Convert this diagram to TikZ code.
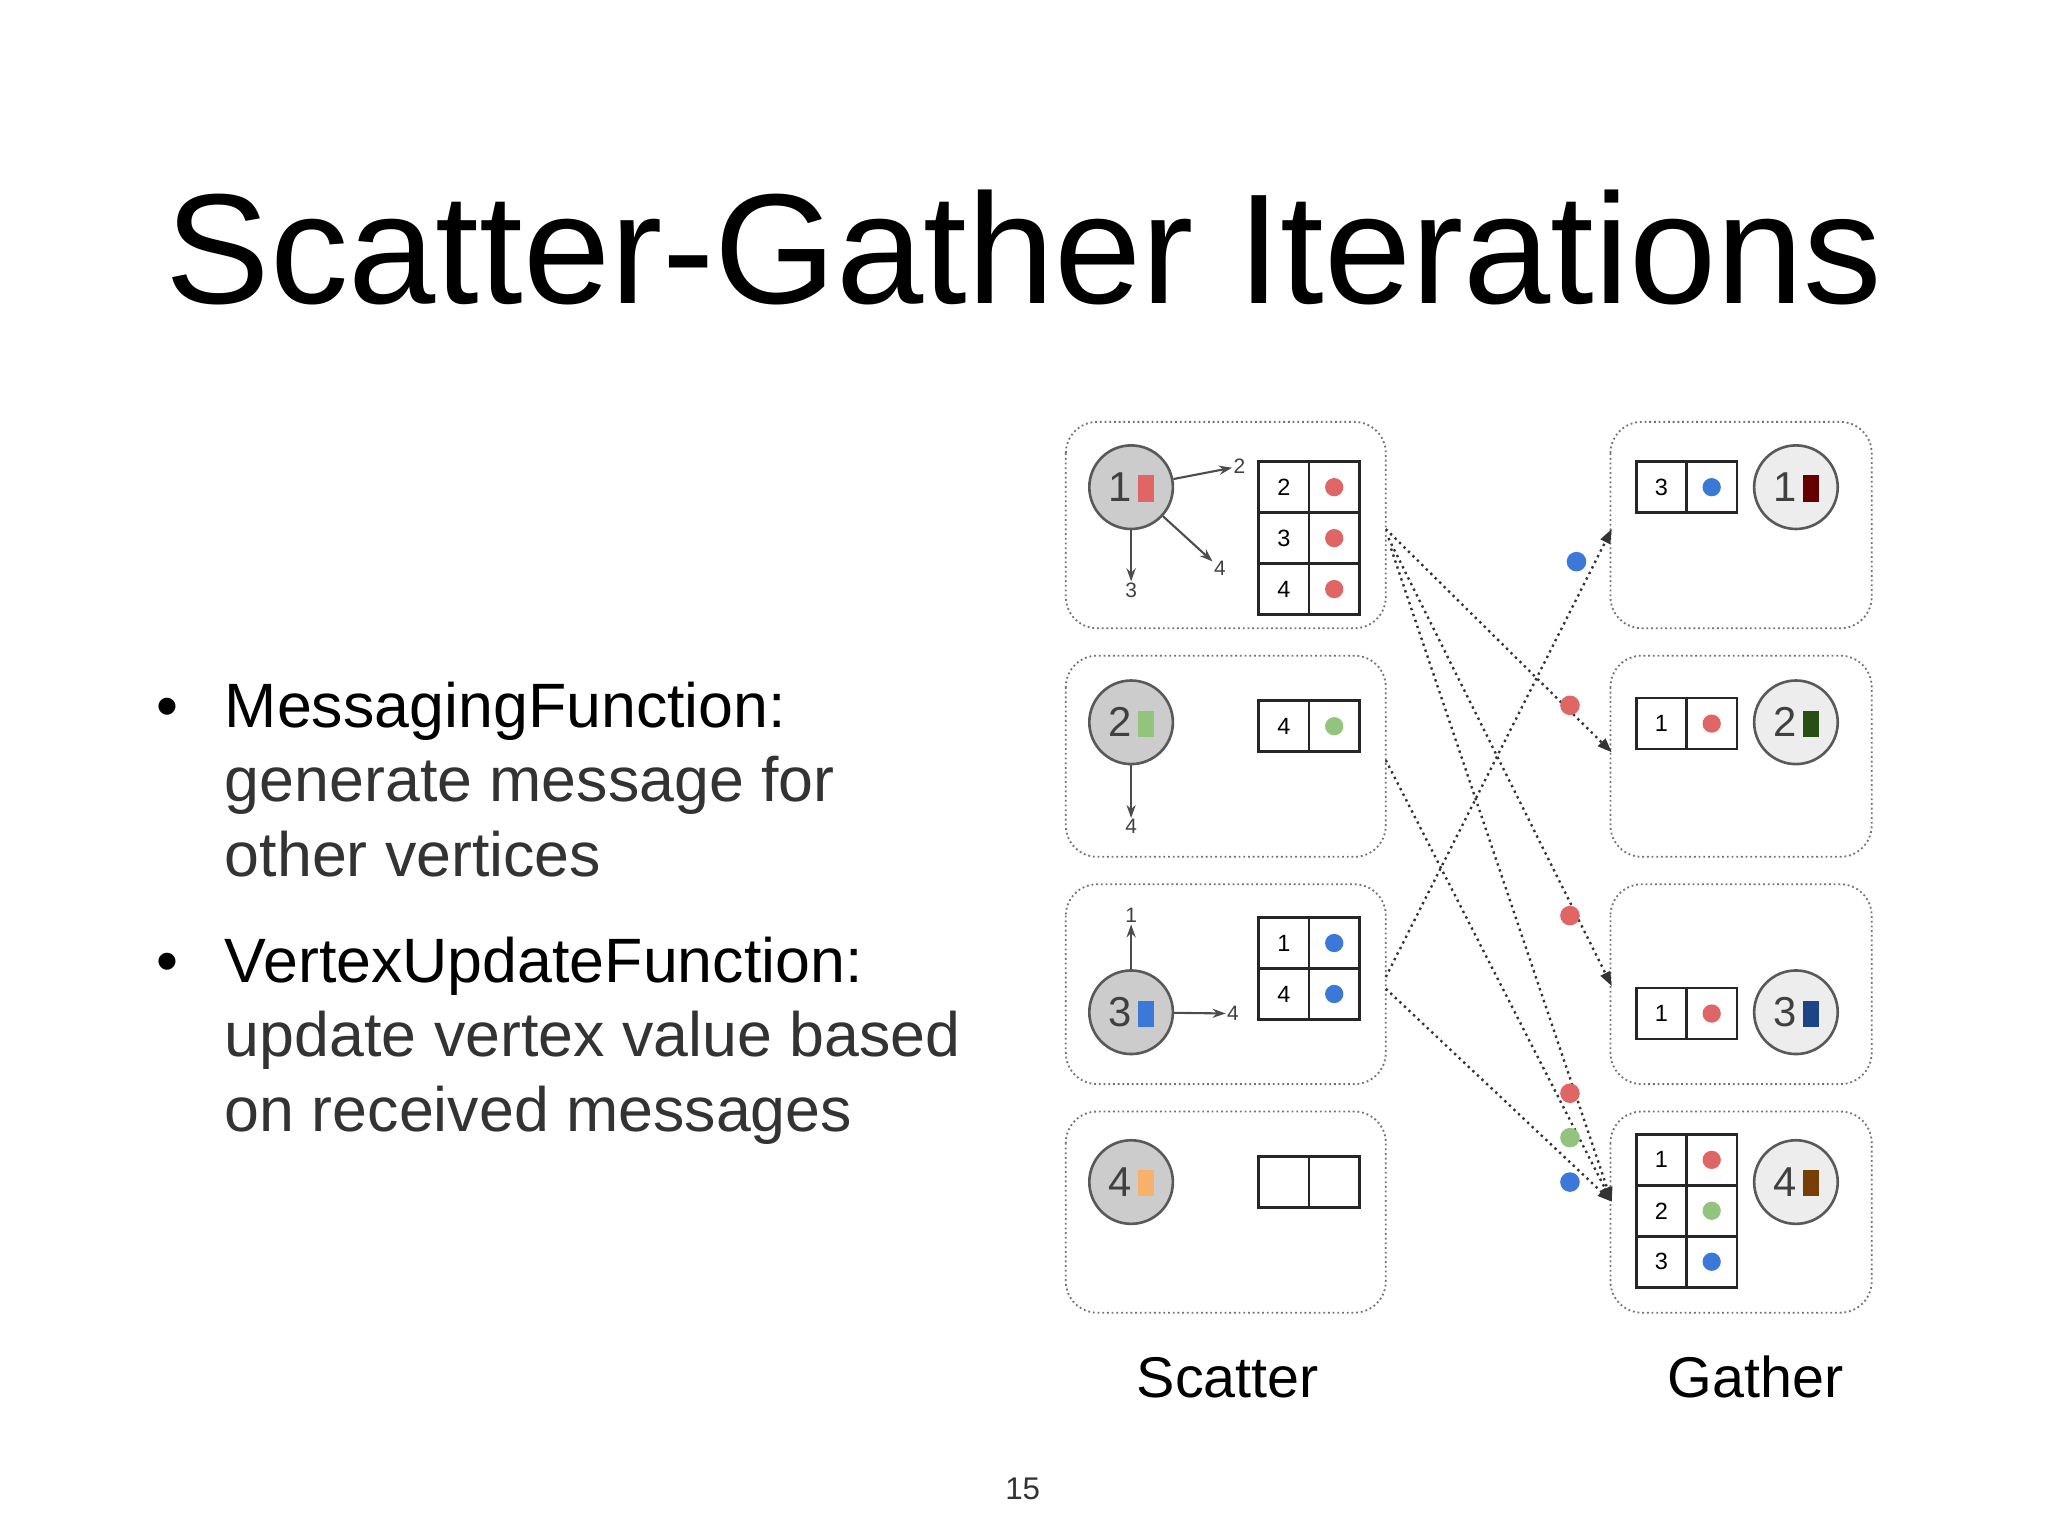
\documentclass[tikz,border=0pt]{standalone}
\usepackage{fontspec}
\setmainfont{Liberation Sans}
\usetikzlibrary{arrows.meta}
\definecolor{mred}{HTML}{E06666}
\definecolor{mgreen}{HTML}{93C47D}
\definecolor{mblue}{HTML}{3C78D8}
\definecolor{morange}{HTML}{F6B26B}
\definecolor{dred}{HTML}{660000}
\definecolor{dgreen}{HTML}{274E13}
\definecolor{dblue}{HTML}{1C4587}
\definecolor{dbrown}{HTML}{783F04}
\tikzset{
 panel/.style={draw=black!55,dash pattern=on 1.4pt off 2.2pt,rounded corners=24pt,line width=1.4pt},
 svert/.style={circle,draw=black!65,fill=black!20,line width=2pt,minimum size=64pt,inner sep=0pt},
 gvert/.style={circle,draw=black!65,fill=black!7,line width=2pt,minimum size=64pt,inner sep=0pt},
 cell/.style={draw=black!85,line width=2pt,minimum width=38.5pt,minimum height=39pt,inner sep=0pt,font=\fontsize{18}{18}\selectfont},
 dot/.style={circle,fill=#1,minimum size=15pt,inner sep=0pt},
 lbl/.style={font=\fontsize{16}{16}\selectfont,text=black!75,inner sep=1pt},
 sarr/.style={-{Stealth[length=10pt,width=7pt]},draw=black!70,line width=1.6pt},
 msg/.style={dash pattern=on 1.8pt off 3pt,line width=1.8pt,draw=black!80,-{Triangle[length=11pt,width=8pt]}}
}
\newcommand{\vlab}[2]{\fontsize{32}{32}\selectfont\textcolor{black!75}{#1}\,\textcolor{#2}{\rule{12pt}{20pt}}}
\begin{document}
\begin{tikzpicture}[x=1pt,y=-1pt]
\useasboundingbox (0,0) rectangle (1568,1176);
\node[anchor=base,font=\fontsize{120}{120}\selectfont] (title) at (784,232) {Scatter-Gather Iterations};
% bullets
\begin{scope}[every node/.style={anchor=base west,inner sep=0pt,font=\fontsize{48}{48}\selectfont}]
\node (b1) at (120,557) {•};
\node (t1a) at (172,557) {MessagingFunction:};
\node[text=black!80] (t1b) at (172,614) {generate message for};
\node[text=black!80] (t1c) at (172,671) {other vertices};
\node (b2) at (120,752) {•};
\node (t2a) at (172,752) {VertexUpdateFunction:};
\node[text=black!80] (t2b) at (172,809) {update vertex value based};
\node[text=black!80] (t2c) at (172,866) {on received messages};
\end{scope}
% panels
\foreach \n/\a/\b in {1/323/481,2/502/656,3/677/830,4/851/1005}{
  \draw[panel] (816,\a) rectangle (1061,\b);
  \draw[panel] (1233,\a) rectangle (1433,\b);
}
% vertices
\node[svert] (s1) at (866,373) {\vlab{1}{mred}};
\node[svert] (s2) at (866,553) {\vlab{2}{mgreen}};
\node[svert] (s3) at (866,775) {\vlab{3}{mblue}};
\node[svert] (s4) at (866,905) {\vlab{4}{morange}};
\node[gvert] (g1) at (1375,373) {\vlab{1}{dred}};
\node[gvert] (g2) at (1375,553) {\vlab{2}{dgreen}};
\node[gvert] (g3) at (1375,775) {\vlab{3}{dblue}};
\node[gvert] (g4) at (1375,905) {\vlab{4}{dbrown}};
% scatter small arrows
\node[lbl] (l12) at (949,357) {2};
\node[lbl] (l14) at (934,435) {4};
\node[lbl] (l13) at (866,452) {3};
\node[lbl] (l24) at (866,633) {4};
\node[lbl] (l31) at (866,701) {1};
\node[lbl] (l34) at (944,776) {4};
\draw[sarr] (s1) -- (l12);
\draw[sarr] (s1) -- (l14);
\draw[sarr] (s1) -- (l13);
\draw[sarr] (s2) -- (l24);
\draw[sarr] (s3) -- (l31);
\draw[sarr] (s3) -- (l34);
% scatter tables
\node[cell] (a1) at (983,373) {2}; \node[cell] (a1d) at (1021.5,373) {\tikz\fill[mred] circle (7pt);};
\node[cell] (a2) at (983,412) {3}; \node[cell] (a2d) at (1021.5,412) {\tikz\fill[mred] circle (7pt);};
\node[cell] (a3) at (983,451) {4}; \node[cell] (a3d) at (1021.5,451) {\tikz\fill[mred] circle (7pt);};
\node[cell] (b1c) at (983,556) {4}; \node[cell] (b1d) at (1021.5,556) {\tikz\fill[mgreen] circle (7pt);};
\node[cell] (c1) at (983,722) {1}; \node[cell] (c1d) at (1021.5,722) {\tikz\fill[mblue] circle (7pt);};
\node[cell] (c2) at (983,761) {4}; \node[cell] (c2d) at (1021.5,761) {\tikz\fill[mblue] circle (7pt);};
\node[cell] (d1) at (983,905) {}; \node[cell] (d1d) at (1021.5,905) {};
% gather tables
\node[cell] (e1) at (1272,373) {3}; \node[cell] (e1d) at (1310.5,373) {\tikz\fill[mblue] circle (7pt);};
\node[cell] (f1) at (1272,554) {1}; \node[cell] (f1d) at (1310.5,554) {\tikz\fill[mred] circle (7pt);};
\node[cell] (h1) at (1272,776) {1}; \node[cell] (h1d) at (1310.5,776) {\tikz\fill[mred] circle (7pt);};
\node[cell] (k1) at (1272,888) {1}; \node[cell] (k1d) at (1310.5,888) {\tikz\fill[mred] circle (7pt);};
\node[cell] (k2) at (1272,927) {2}; \node[cell] (k2d) at (1310.5,927) {\tikz\fill[mgreen] circle (7pt);};
\node[cell] (k3) at (1272,966) {3}; \node[cell] (k3d) at (1310.5,966) {\tikz\fill[mblue] circle (7pt);};
% message connectors
\coordinate (o1) at (1061,405);
\coordinate (o1b) at (1063,412);
\coordinate (o1c) at (1065,420);
\coordinate (o2) at (1061,582);
\coordinate (o3) at (1061,748);
\coordinate (o3b) at (1061,757);
\coordinate (i1) at (1234,405);
\coordinate (i2) at (1234,576);
\coordinate (i3) at (1234,755);
\coordinate (i4) at (1234,920);
\draw[msg] (o1) -- (i2);
\draw[msg] (o1b) -- (i3);
\draw[msg] (o1c) -- (i4);
\draw[msg] (o2) -- (i4);
\draw[msg] (o3) -- (i1);
\draw[msg] (o3b) -- (i4);
\node[dot=mblue] (m1) at (1207,430) {};
\node[dot=mred] (m2) at (1202,540) {};
\node[dot=mred] (m3) at (1202,701) {};
\node[dot=mred] (m4) at (1202,837) {};
\node[dot=mgreen] (m5) at (1202,871) {};
\node[dot=mblue] (m6) at (1202,905) {};
% captions
\node[anchor=base,font=\fontsize{44}{44}\selectfont] (cs) at (940,1070) {Scatter};
\node[anchor=base,font=\fontsize{44}{44}\selectfont] (cg) at (1344,1070) {Gather};
\node[anchor=base,font=\fontsize{24}{24}\selectfont,text=black!80] (pg) at (783,1148) {15};
\end{tikzpicture}
\end{document}
